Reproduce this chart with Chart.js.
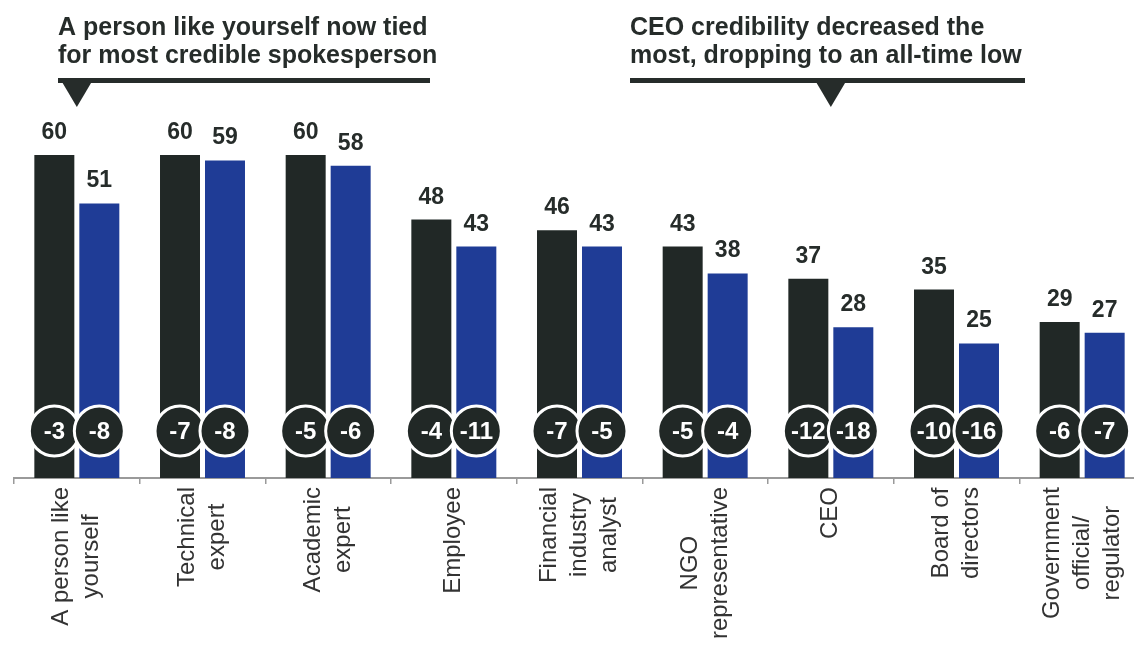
<!DOCTYPE html>
<html>
<head>
<meta charset="utf-8">
<script src="https://cdn.jsdelivr.net/npm/chart.js@4.4.0/dist/chart.umd.min.js"></script>
<style>
  html, body { margin: 0; padding: 0; background: #fff; overflow: hidden; }
  #wrap { position: relative; width: 1150px; height: 645px; }
</style>
</head>
<body>
<div id="wrap"><canvas id="credibility"></canvas></div>
<script>
// categories, one array of lines per label
const categories = [
    ['A person like', 'yourself'],
    ['Technical', 'expert'],
    ['Academic', 'expert'],
    ['Employee'],
    ['Financial', 'industry', 'analyst'],
    ['NGO', 'representative'],
    ['CEO'],
    ['Board of', 'directors'],
    ['Government', 'official/', 'regulator']
];

const firstValues = [60, 60, 60, 48, 46, 43, 37, 35, 29];
const secondValues = [51, 59, 58, 43, 43, 38, 28, 25, 27];

// change figures shown in the circles
const firstChange = [-3, -7, -5, -4, -7, -5, -12, -10, -6];
const secondChange = [-8, -8, -6, -11, -5, -4, -18, -16, -7];

const headers = [
    { lines: ['A person like yourself now tied', 'for most credible spokesperson'], left: 58, right: 430, target: 0 },
    { lines: ['CEO credibility decreased the', 'most, dropping to an all-time low'], left: 630, right: 1025, target: 6 }
];

const DARK = '#212826';
const BLUE = '#1f3c96';
const TEXT = '#262c2a';
const FONT = '"Liberation Sans", Arial, Helvetica, sans-serif';

const annotations = {
    id: 'annotations',
    afterDatasetsDraw(chart) {
        const ctx = chart.ctx;
        const area = chart.chartArea;
        const xScale = chart.scales.x;
        const metas = [chart.getDatasetMeta(0), chart.getDatasetMeta(1)];
        const changes = [firstChange, secondChange];

        ctx.save();

        // numbers above the bars
        ctx.fillStyle = TEXT;
        ctx.font = 'bold 23px ' + FONT;
        ctx.textAlign = 'center';
        ctx.textBaseline = 'alphabetic';
        metas.forEach(function (meta, d) {
            meta.data.forEach(function (bar, i) {
                const v = chart.data.datasets[d].data[i];
                ctx.fillText(String(v), bar.x, bar.y - 16);
            });
        });

        // change circles near the base
        const cy = area.bottom - 47;
        ctx.textBaseline = 'middle';
        for (let i = 0; i < categories.length; i++) {
            for (let d = 0; d < 2; d++) {
                const bar = metas[d].data[i];
                ctx.beginPath();
                ctx.arc(bar.x, cy, 25, 0, Math.PI * 2);
                ctx.fillStyle = DARK;
                ctx.fill();
                ctx.lineWidth = 3;
                ctx.strokeStyle = '#ffffff';
                ctx.stroke();
                ctx.fillStyle = '#ffffff';
                ctx.font = 'bold 24px ' + FONT;
                ctx.fillText(String(changes[d][i]), bar.x, cy + 1);
            }
        }

        // rotated category labels
        ctx.fillStyle = '#333333';
        ctx.font = '24px ' + FONT;
        ctx.textAlign = 'center';
        ctx.textBaseline = 'middle';
        const lineH = 30;
        categories.forEach(function (lines, i) {
            const x = xScale.getPixelForValue(i);
            const maxW = Math.max.apply(null, lines.map(function (l) { return ctx.measureText(l).width; }));
            ctx.save();
            ctx.translate(x, area.bottom + 9);
            ctx.rotate(-Math.PI / 2);
            lines.forEach(function (line, k) {
                ctx.fillText(line, -maxW / 2, (k - (lines.length - 1) / 2) * lineH);
            });
            ctx.restore();
        });

        // headline callouts with pointer
        ctx.font = 'bold 25px ' + FONT;
        ctx.textAlign = 'left';
        ctx.textBaseline = 'alphabetic';
        headers.forEach(function (h) {
            ctx.fillStyle = TEXT;
            h.lines.forEach(function (line, k) {
                ctx.fillText(line, h.left, 35 + k * 28);
            });
            ctx.fillRect(h.left, 78, h.right - h.left, 5);
            const tx = xScale.getPixelForValue(h.target);
            ctx.beginPath();
            ctx.moveTo(tx - 16, 80);
            ctx.lineTo(tx + 16, 80);
            ctx.lineTo(tx, 107);
            ctx.closePath();
            ctx.fill();
        });

        ctx.restore();
    }
};

new Chart(document.getElementById('credibility').getContext('2d'), {
    type: 'bar',
    data: {
        labels: categories,
        datasets: [
            {
                label: 'Series 1',
                data: firstValues,
                backgroundColor: DARK,
                borderWidth: 0,
                categoryPercentage: 0.716,
                barPercentage: 0.889
            },
            {
                label: 'Series 2',
                data: secondValues,
                backgroundColor: BLUE,
                borderWidth: 0,
                categoryPercentage: 0.716,
                barPercentage: 0.889
            }
        ]
    },
    options: {
        responsive: true,
        maintainAspectRatio: false,
        animation: false,
        layout: {
            padding: { top: 155, left: 14, right: 5, bottom: 161 }
        },
        scales: {
            x: {
                grid: {
                    offset: true,
                    drawOnChartArea: false,
                    drawTicks: true,
                    tickLength: 6,
                    color: '#9a9a9a',
                    lineWidth: 1.5
                },
                border: { color: '#9a9a9a', width: 2 },
                ticks: { display: false }
            },
            y: {
                display: false,
                min: 0,
                max: 60
            }
        },
        plugins: {
            legend: { display: false },
            tooltip: { enabled: false }
        }
    },
    plugins: [annotations]
});
</script>
</body>
</html>
